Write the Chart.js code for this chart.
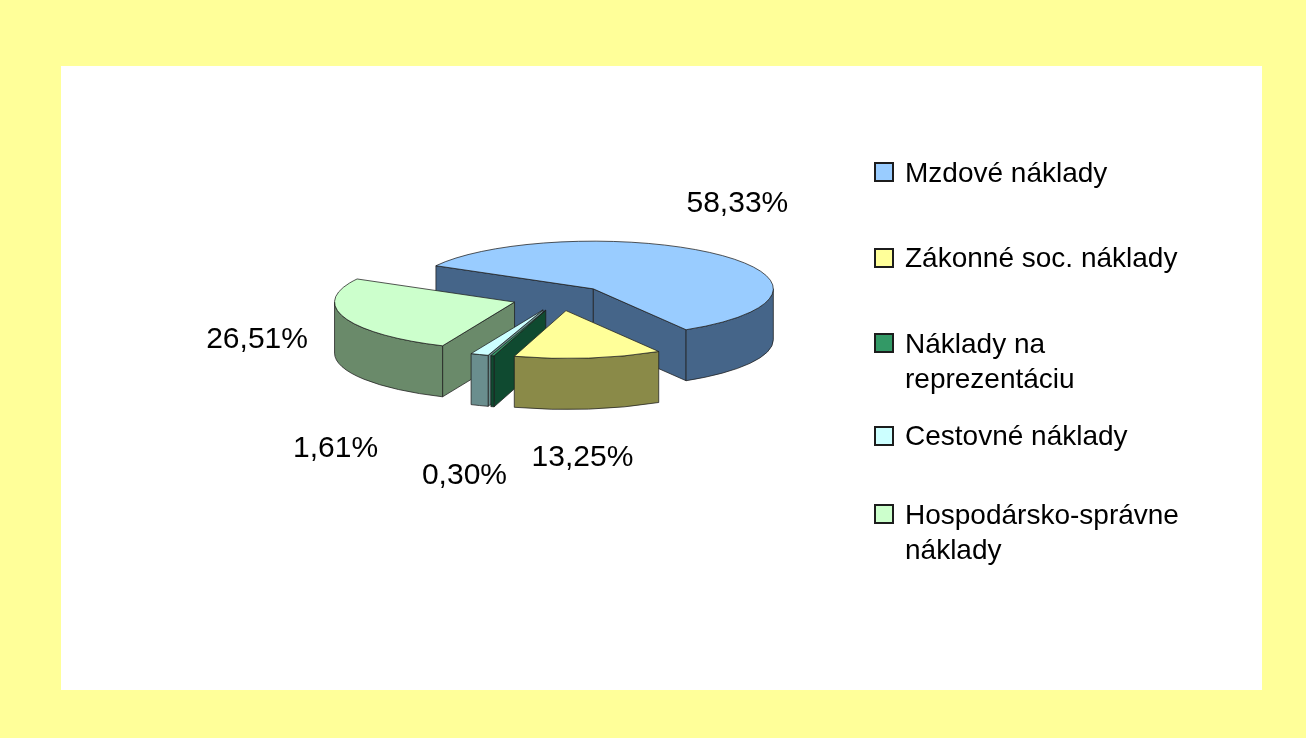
<!DOCTYPE html>
<html>
<head>
<meta charset="utf-8">
<script src="https://cdn.jsdelivr.net/npm/chart.js@4.4.1/dist/chart.umd.min.js"></script>
<style>
  html, body { margin: 0; padding: 0; width: 1306px; height: 738px; overflow: hidden; background: #FFFF99; }
  #panel { position: absolute; left: 61px; top: 66px; width: 1201px; height: 624px; background: #fff; }
  #chart { position: absolute; left: 0; top: 0; }
  #legend { position: absolute; left: 874px; top: 0; width: 321px;
            font-family: "Liberation Sans", Arial, sans-serif; font-size: 28px; line-height: 35px; color: #000; }
  .item { position: absolute; left: 0; width: 321px; padding-left: 31px; box-sizing: border-box; }
  .item .box { position: absolute; left: 0; top: 7.5px; width: 20px; height: 20px;
               border: 2px solid #1c1c1c; box-sizing: border-box; }
</style>
</head>
<body>
<div id="panel"></div>
<canvas id="chart" width="1306" height="738"></canvas>
<div id="legend"></div>
<script>
// --- 資料 ---
const categories = ['Mzdové náklady', 'Zákonné soc. náklady', 'Náklady na reprezentáciu', 'Cestovné náklady', 'Hospodársko-správne náklady'];
const shares = [58.33, 13.25, 0.30, 1.61, 26.51];
const topColors = ['#99CCFF', '#FFFF99', '#339966', '#CCFFFF', '#CCFFCC'];
const sideColors = ['#456589', '#8A8A48', '#0F4A30', '#6A8E8E', '#6A8A6A'];

// 3D 外觀參數
const tilt = 0.265;      // 橢圓壓扁比例
const depth = 51;        // 厚度
const edgeColor = 'rgba(30,30,30,0.75)';
// 百分比標籤相對於扇形外緣的微調
const labelNudge = [[19, -43], [-6, 108], [-28, 128], [-144, 102], [-87, 31]];
// 圖例每一項的頂端位置
const legendTops = [154.5, 240, 325.5, 418, 496.5];

function fmt(v) {
    return v.toFixed(2).replace('.', ',') + '%';
}

function drawSlice(ctx, arc, i) {
    const p = arc.getProps(['x', 'y', 'startAngle', 'endAngle', 'outerRadius'], true);
    const a0 = p.startAngle, a1 = p.endAngle, r = p.outerRadius;
    const m = (a0 + a1) / 2;
    const off = arc.options.offset || 0;
    const cx = p.x + Math.cos(m) * off;
    const cy = p.y + Math.sin(m) * off * tilt;
    const ry = r * tilt;
    const pt = (a, h) => [cx + r * Math.cos(a), cy + ry * Math.sin(a) + h];

    ctx.save();
    ctx.lineWidth = 1;
    ctx.lineJoin = 'round';
    ctx.strokeStyle = edgeColor;
    ctx.fillStyle = sideColors[i];

    // 側面 (徑向牆)
    const wall = a => {
        const [ex, ey] = pt(a, 0);
        ctx.beginPath();
        ctx.moveTo(cx, cy);
        ctx.lineTo(ex, ey);
        ctx.lineTo(ex, ey + depth);
        ctx.lineTo(cx, cy + depth);
        ctx.closePath();
        ctx.fill();
        ctx.stroke();
    };
    if (Math.cos(a0) < 0) wall(a0);
    if (Math.cos(a1) > 0) wall(a1);

    // 外側弧面 (只畫朝前的部分)
    const TAU = Math.PI * 2;
    for (let n = Math.floor(a0 / TAU) - 1; n <= Math.ceil(a1 / TAU); n++) {
        const b0 = Math.max(a0, n * TAU);
        const b1 = Math.min(a1, n * TAU + Math.PI);
        if (b1 <= b0) continue;
        ctx.beginPath();
        ctx.ellipse(cx, cy, r, ry, 0, b0, b1);
        const [bx, by] = pt(b1, depth);
        ctx.lineTo(bx, by);
        ctx.ellipse(cx, cy + depth, r, ry, 0, b1, b0, true);
        ctx.closePath();
        ctx.fill();
        ctx.stroke();
    }

    // 頂面
    ctx.fillStyle = topColors[i];
    ctx.beginPath();
    ctx.moveTo(cx, cy);
    ctx.ellipse(cx, cy, r, ry, 0, a0, a1);
    ctx.closePath();
    ctx.fill();
    ctx.stroke();
    ctx.restore();
}

const pie3d = {
    id: 'pie3d',
    beforeDatasetsDraw(chart) {
        const arcs = chart.getDatasetMeta(0).data;
        const mid = a => (a.startAngle + a.endAngle) / 2;
        // 後面的先畫
        const order = arcs.map((a, i) => i).sort((i, j) => Math.sin(mid(arcs[i])) - Math.sin(mid(arcs[j])));
        order.forEach(i => drawSlice(chart.ctx, arcs[i], i));
        return false;
    },
    afterDraw(chart) {
        const ctx = chart.ctx;
        const arcs = chart.getDatasetMeta(0).data;
        ctx.save();
        ctx.font = '30px "Liberation Sans", Arial, sans-serif';
        ctx.fillStyle = '#000';
        ctx.textAlign = 'center';
        ctx.textBaseline = 'alphabetic';
        arcs.forEach((arc, i) => {
            const m = (arc.startAngle + arc.endAngle) / 2;
            const rr = arc.outerRadius + (arc.options.offset || 0);
            const x = arc.x + Math.cos(m) * rr + labelNudge[i][0];
            const y = arc.y + Math.sin(m) * rr * tilt + labelNudge[i][1];
            ctx.fillText(fmt(shares[i]), x, y);
        });
        ctx.restore();
    }
};

const chart = new Chart(document.getElementById('chart'), {
    type: 'pie',
    data: {
        labels: categories,
        datasets: [{
            data: shares,
            backgroundColor: topColors,
            borderWidth: 0,
            offset: 48,
            radius: 180
        }]
    },
    options: {
        responsive: false,
        animation: false,
        events: [],
        rotation: 299,
        layout: { padding: { left: 0, top: 0, right: 186, bottom: 142 } },
        plugins: { legend: { display: false }, tooltip: { enabled: false } }
    },
    plugins: [pie3d]
});

// 圖例 (HTML)
const legendEl = document.getElementById('legend');
categories.forEach((name, i) => {
    const item = document.createElement('div');
    item.className = 'item';
    item.style.top = legendTops[i] + 'px';
    const box = document.createElement('span');
    box.className = 'box';
    box.style.background = topColors[i];
    item.appendChild(box);
    item.appendChild(document.createTextNode(name));
    legendEl.appendChild(item);
});
</script>
</body>
</html>
